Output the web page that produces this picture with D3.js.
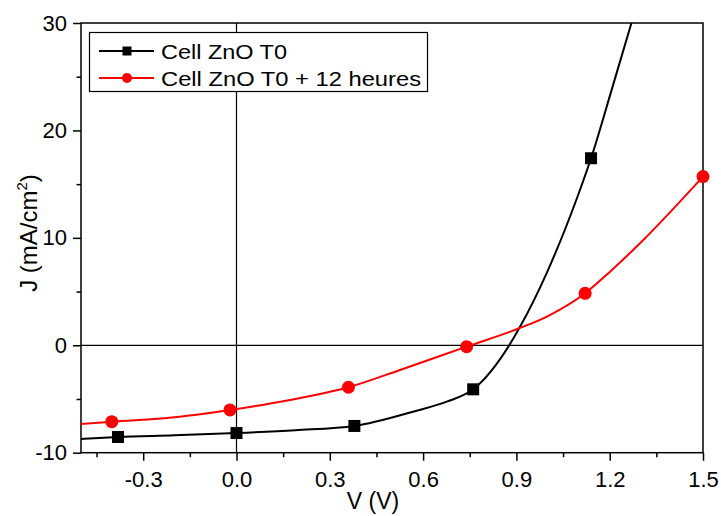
<!DOCTYPE html>
<html><head><meta charset="utf-8">
<script src="https://cdn.jsdelivr.net/npm/d3@7"></script>
<style>body{margin:0;background:#fff}svg{display:block}text{font-family:"Liberation Sans",Arial,sans-serif}</style>
</head><body><svg id="c" width="721" height="516"></svg>
<script>
// Data
const seriesNames = ["Cell ZnO T0", "Cell ZnO T0 + 12 heures"];
// curve traces (V, J)
const blackCurveV = [-0.50, -0.381, -0.20, 0.0, 0.19, 0.379, 0.568, 0.676, 0.761, 0.877, 0.909, 0.997, 1.094, 1.140, 1.206, 1.275];
const blackCurveJ = [-8.72, -8.54, -8.38, -8.17, -7.90, -7.51, -6.18, -5.25, -4.10, 0.0, 1.58, 6.7, 13.64, 17.41, 23.75, 30.5];
const redCurveV = [-0.50, -0.401, -0.20, -0.021, 0.172, 0.360, 0.526, 0.740, 0.909, 1.0, 1.121, 1.201, 1.308, 1.50];
const redCurveJ = [-7.33, -7.11, -6.70, -6.02, -5.09, -3.91, -2.30, -0.13, 1.58, 2.7, 4.84, 6.85, 9.8, 15.70];
// marker points
const blackMarkV = [-0.381, 0.0, 0.379, 0.761, 1.140];
const blackMarkJ = [-8.54, -8.17, -7.51, -4.10, 17.41];
const redMarkV = [-0.401, -0.021, 0.360, 0.740, 1.121, 1.50];
const redMarkJ = [-7.11, -6.02, -3.91, -0.13, 4.84, 15.70];
// ticks
const xMajor = [-0.3, 0.0, 0.3, 0.6, 0.9, 1.2, 1.5];
const xMinor = [-0.45, -0.15, 0.15, 0.45, 0.75, 1.05, 1.35];
const yMajor = [-10, 0, 10, 20, 30];
const yMinor = [-5, 5, 15, 25];

const svg = d3.select("#c");
const L = 81, R = 703, T = 23, B = 452.7;
const x = d3.scaleLinear().domain([-0.5, 1.5]).range([L, R]);
const y = d3.scaleLinear().domain([-10, 30]).range([B, T]);

svg.append("defs").append("clipPath").attr("id", "clip")
  .append("rect").attr("x", L).attr("y", T).attr("width", R - L).attr("height", B - T);

// zero lines
svg.append("line").attr("x1", x(0)).attr("x2", x(0)).attr("y1", T).attr("y2", B).attr("stroke", "#000").attr("stroke-width", 1.2);
svg.append("line").attr("x1", L).attr("x2", R).attr("y1", y(0)).attr("y2", y(0)).attr("stroke", "#000").attr("stroke-width", 1.2);

// axes
const fmtX = d => d3.format(".1f")(d).replace("−", "-");
const xAxis = d3.axisBottom(x).tickValues(xMajor).tickSize(8).tickPadding(11).tickFormat(fmtX);
const xAxisMinor = d3.axisBottom(x).tickValues(xMinor).tickSize(4.5).tickFormat("");
const yAxis = d3.axisLeft(y).tickValues(yMajor).tickSize(8).tickPadding(6).tickFormat(d => String(d));
const yAxisMinor = d3.axisLeft(y).tickValues(yMinor).tickSize(4.5).tickFormat("");

function style(g) {
  g.select(".domain").remove();
  g.selectAll("line").attr("stroke", "#000").attr("stroke-width", 1.5);
  g.selectAll("text").attr("fill", "#000").style("font-size", "22px").style("font-family", '"Liberation Sans",Arial,sans-serif');
}
svg.append("g").attr("transform", `translate(0,${B})`).call(xAxis).call(style);
svg.append("g").attr("transform", `translate(0,${B})`).call(xAxisMinor).call(style);
svg.append("g").attr("transform", `translate(${L},0)`).call(yAxis).call(style);
svg.append("g").attr("transform", `translate(${L},0)`).call(yAxisMinor).call(style);

// frame
svg.append("rect").attr("x", L).attr("y", T).attr("width", R - L).attr("height", B - T)
  .attr("fill", "none").attr("stroke", "#000").attr("stroke-width", 1.5);

// curves
const line = d3.line().x(d => x(d[0])).y(d => y(d[1])).curve(d3.curveMonotoneX);
const plot = svg.append("g").attr("clip-path", "url(#clip)");
plot.append("path").datum(blackCurveV.map((v, i) => [v, blackCurveJ[i]]))
  .attr("d", line).attr("fill", "none").attr("stroke", "#000").attr("stroke-width", 2);
plot.append("path").datum(redCurveV.map((v, i) => [v, redCurveJ[i]]))
  .attr("d", line).attr("fill", "none").attr("stroke", "#ff0000").attr("stroke-width", 2);

// markers
const sq = 12;
svg.append("g").selectAll("rect").data(blackMarkV.map((v, i) => [v, blackMarkJ[i]])).join("rect")
  .attr("x", d => x(d[0]) - sq / 2).attr("y", d => y(d[1]) - sq / 2).attr("width", sq).attr("height", sq).attr("fill", "#000");
svg.append("g").selectAll("circle").data(redMarkV.map((v, i) => [v, redMarkJ[i]])).join("circle")
  .attr("cx", d => x(d[0])).attr("cy", d => y(d[1])).attr("r", 6.5).attr("fill", "#ff0000");

// axis titles
svg.append("text").attr("x", 373).attr("y", 509).attr("text-anchor", "middle").style("font-size", "23px").text("V (V)");
const yt = svg.append("text").attr("transform", "translate(37,233) rotate(-90)").attr("text-anchor", "middle").style("font-size", "24px");
yt.append("tspan").text("J (mA/cm");
yt.append("tspan").attr("dy", -10).style("font-size", "15px").text("2");
yt.append("tspan").attr("dy", 10).text(")");

// legend
const lg = svg.append("g");
lg.append("rect").attr("x", 89.5).attr("y", 32.5).attr("width", 338).attr("height", 59)
  .attr("fill", "#fff").attr("stroke", "#000").attr("stroke-width", 1.2);
const rows = [{c: "#000", y: 51, m: "sq", w: 126}, {c: "#ff0000", y: 78, m: "ci", w: 260}];
rows.forEach((r, i) => {
  lg.append("line").attr("x1", 99).attr("x2", 154).attr("y1", r.y).attr("y2", r.y).attr("stroke", r.c).attr("stroke-width", 2);
  if (r.m === "sq") lg.append("rect").attr("x", 127 - 4.5).attr("y", r.y - 4.5).attr("width", 9).attr("height", 9).attr("fill", r.c);
  else lg.append("circle").attr("cx", 127).attr("cy", r.y).attr("r", 5).attr("fill", r.c);
  lg.append("text").attr("x", 161).attr("y", r.y + 7.5).style("font-size", "21px")
    .attr("textLength", r.w).attr("lengthAdjust", "spacingAndGlyphs").text(seriesNames[i]);
});
</script></body></html>
